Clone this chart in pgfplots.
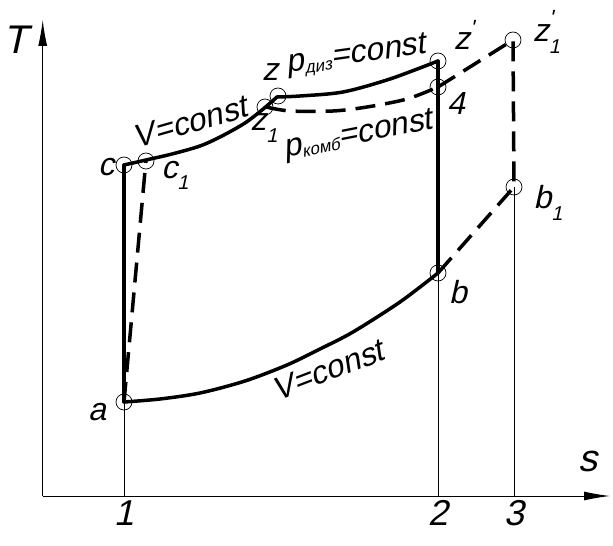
\documentclass[border=0pt]{standalone}
\usepackage{pgfplots}
\pgfplotsset{compat=1.18}
\usepackage{fontspec}
\usetikzlibrary{arrows.meta}
\newfontfamily\gost{Liberation Sans}[FakeSlant=0.22]
\newcommand\gf[1]{\gost\fontsize{#1}{#1}\selectfont}
\newcommand\sub[1]{\raisebox{-0.35em}{\gf{20}#1}}
\begin{document}
\begin{tikzpicture}
\begin{axis}[
  x=1pt, y=1pt,
  xmin=42.7, xmax=610, ymin=50, ymax=526,
  axis lines=left,
  every outer x axis line/.append style={line width=1pt,-{Latex[length=26pt,width=9pt]}},
  every outer y axis line/.append style={line width=1pt,-{Latex[length=26pt,width=9pt]}},
  xtick={124,438,514}, xticklabels={1,2,3},
  ytick=\empty,
  major tick length=0pt,
  xticklabel style={font=\gf{36}, yshift=-1pt},
  clip=false,
]
% thin construction lines
\addplot[black, line width=1pt] coordinates {(124,50) (124,144)};
\addplot[black, line width=1pt] coordinates {(438,50) (438,273)};
\addplot[black, line width=1pt] coordinates {(514,50) (514,359)};

% solid cycle
\addplot[black, line width=3.5pt, line cap=round] coordinates {(124,144) (124,381)};
\addplot[black, line width=3.5pt, line cap=round, smooth] coordinates
  {(124,381) (146,386) (172,392) (200,400) (222,410) (245,423) (262,436) (277,449)};
\addplot[black, line width=3.5pt, line cap=round, smooth] coordinates
  {(277,449) (300,450) (343,454) (390,467) (438,485)};
\addplot[black, line width=3.5pt, line cap=round] coordinates {(438,485) (438,273)};
\addplot[black, line width=3.5pt, line cap=round, smooth] coordinates
  {(438,273) (400,244) (353,214) (320,197) (287,181) (245,165) (200,153) (160,147) (124,144)};

% dashed cycle
\addplot[black, line width=3.5pt, dash pattern=on 20pt off 10pt] coordinates {(124,144) (146,386)};
\addplot[black, line width=3.5pt, dash pattern=on 20pt off 10pt, smooth] coordinates
  {(266,439) (290,435) (333,435) (367,439) (407,447) (438,459)};
\addplot[black, line width=3.5pt, dash pattern=on 20pt off 10pt] coordinates
  {(438,459) (513,506) (514,359) (438,273)};

% state points
\addplot[black, only marks, mark=o, mark size=8pt, mark options={line width=0.7pt}] coordinates
  {(124,144) (124,381) (146,385) (265,439) (278,450) (438,485) (438,459) (513,506) (514,359) (438,273)};

% labels
\node[font=\gf{40}] at (axis cs:16,506) {T};
\node[font=\gf{38}] at (axis cs:588,85) {s};
\node[font=\gf{32}] at (axis cs:97,134) {a};
\node[font=\gf{32}] at (axis cs:106,379) {c};
\node[font=\gf{32}] at (axis cs:175,371) {c\sub{1}};
\node[font=\gf{32}] at (axis cs:270,474) {z};
\node[font=\gf{32}] at (axis cs:264,418) {z\sub{1}};
\node[font=\gf{32}] at (axis cs:464,511) {z\raisebox{0.45em}{\gf{22}'}};
\node[font=\gf{32}] at (axis cs:456,443) {4};
\node[font=\gf{32}] at (axis cs:543,514) {z\rlap{\sub{1}}\raisebox{0.5em}{\gf{22}'}};
\node[font=\gf{32}] at (axis cs:548,343) {b\sub{1}};
\node[font=\gf{32}] at (axis cs:458,254) {b};
\node[font=\gf{32}, rotate=16] at (axis cs:190,424) {V=const};
\node[font=\gf{32}, rotate=21] at (axis cs:328,176) {V=const};
\node[font=\gf{32}, rotate=8] at (axis cs:356,490) {p\raisebox{-0.1em}{\gf{17}диз}=const};
\node[font=\gf{32}, rotate=11] at (axis cs:358,410) {p\raisebox{-0.1em}{\gf{17}комб}=const};

\path (axis cs:0,0) (axis cs:613,546);
\end{axis}
\end{tikzpicture}
\end{document}
